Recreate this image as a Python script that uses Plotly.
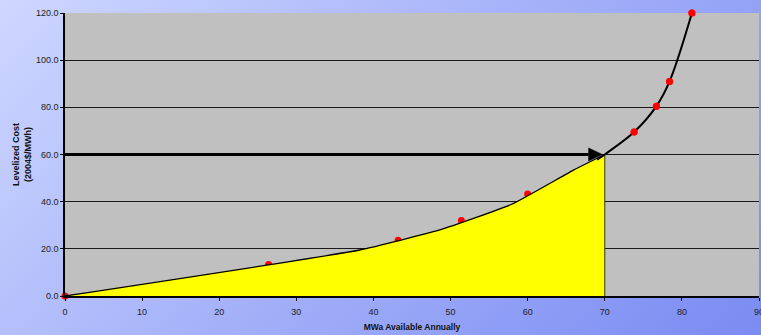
import base64
import plotly.graph_objects as go

# Supply curve: observed resource blocks (MWa, levelized cost)
point_mwa = [0, 26.4, 43.2, 51.4, 60.0, 73.8, 76.7, 78.4, 81.3]
point_cost = [0.0, 13.4, 23.6, 32.0, 43.3, 69.5, 80.5, 91.0, 120.0]

# Fitted curve up to the target quantity (shaded region)
fit_mwa = [0, 38.2, 48.6, 58.0, 66.0, 70.0]
fit_cost = [0.0, 19.5, 28.0, 39.0, 53.5, 60.0]

# Steep upper portion of the curve beyond the target
upper_mwa = [69.0, 70.0, 73.8, 76.7, 78.4, 81.3]
upper_cost = [57.8, 60.0, 69.5, 80.5, 91.0, 120.0]

target_mwa = 70
target_cost = 60

x_ticks = [0, 10, 20, 30, 40, 50, 60, 70, 80, 90]
y_ticks = [0, 20, 40, 60, 80, 100, 120]

W, H = 761, 335
ML, MR, MT, MB = 65, 2, 13, 39
PW, PH = W - ML - MR, H - MT - MB

FONT = "Arial, Liberation Sans, sans-serif"

# Arrowhead size, in axis units
HEAD_LEN = 1.8
HEAD_HALF = 2.8
tip_x = target_mwa - 0.3

# Diagonal blue gradient for the page background
svg = (
    f'<svg xmlns="http://www.w3.org/2000/svg" width="{W}" height="{H}" viewBox="0 0 {W} {H}" preserveAspectRatio="none">'
    '<defs><linearGradient id="g" gradientUnits="userSpaceOnUse" x1="0" y1="0" x2="548" y2="548">'
    '<stop offset="0" stop-color="#CED7FF"/><stop offset="1" stop-color="#7A8BF2"/>'
    '</linearGradient></defs>'
    f'<rect x="0" y="0" width="{W}" height="{H}" fill="url(#g)"/></svg>'
)
bg_src = "data:image/svg+xml;base64," + base64.b64encode(svg.encode()).decode()

fig = go.Figure()

# Red data points (drawn first so the shaded area overlaps them)
fig.add_trace(go.Scatter(
    x=point_mwa, y=point_cost, mode="markers",
    marker=dict(color="#FF0000", size=7, line=dict(width=0)),
    cliponaxis=False, hoverinfo="skip",
))

# Shaded area under the curve up to the target quantity
fig.add_trace(go.Scatter(
    x=fit_mwa, y=fit_cost,
    mode="lines", fill="tozeroy", fillcolor="#FFFF00",
    line=dict(color="#000000", width=1.3, shape="spline", smoothing=0.4),
    hoverinfo="skip",
))
# Right edge of the shaded area
fig.add_trace(go.Scatter(
    x=[target_mwa, target_mwa], y=[0, target_cost], mode="lines",
    line=dict(color="#333300", width=1), hoverinfo="skip",
))

# Upper curve
fig.add_trace(go.Scatter(
    x=upper_mwa, y=upper_cost, mode="lines",
    line=dict(color="#000000", width=2, shape="spline", smoothing=1),
    cliponaxis=False, hoverinfo="skip",
))

# Red points on the upper curve sit above the line
fig.add_trace(go.Scatter(
    x=point_mwa[5:], y=point_cost[5:], mode="markers",
    marker=dict(color="#FF0000", size=7, line=dict(width=0)),
    cliponaxis=False, hoverinfo="skip",
))

# Arrow from the cost axis to the target point: shaft ...
fig.add_trace(go.Scatter(
    x=[0, tip_x - HEAD_LEN], y=[target_cost, target_cost], mode="lines",
    line=dict(color="#000000", width=3), cliponaxis=False, hoverinfo="skip",
))
# ... and head
fig.add_trace(go.Scatter(
    x=[tip_x - HEAD_LEN, tip_x, tip_x - HEAD_LEN, tip_x - HEAD_LEN],
    y=[target_cost + HEAD_HALF, target_cost, target_cost - HEAD_HALF, target_cost + HEAD_HALF],
    mode="lines", fill="toself", fillcolor="#000000",
    line=dict(color="#000000", width=0.5), hoverinfo="skip",
))

fig.update_layout(
    width=W, height=H,
    margin=dict(l=ML, r=MR, t=MT, b=MB, pad=0),
    paper_bgcolor="#A6B4F8",
    plot_bgcolor="rgba(0,0,0,0)",
    showlegend=False,
    font=dict(family=FONT, size=9, color="#222222"),
    images=[dict(
        source=bg_src, xref="paper", yref="paper",
        x=-ML / PW, y=1 + MT / PH, sizex=W / PW, sizey=H / PH,
        xanchor="left", yanchor="top", sizing="stretch", layer="below",
    )],
    shapes=[dict(
        type="rect", xref="paper", yref="paper", x0=0, x1=1, y0=0, y1=1,
        fillcolor="#C0C0C0", line=dict(width=0), layer="below",
    )],
    xaxis=dict(
        range=[0, 90], tickvals=x_ticks, ticktext=[str(v) for v in x_ticks],
        showgrid=False, zeroline=False, automargin=False,
        showline=True, linecolor="#000000", linewidth=2,
        ticks="outside", ticklen=3, tickcolor="#000000", tickwidth=1,
        ticklabeloverflow="allow", ticklabelstandoff=3,
        title=dict(text="<b>MWa Available Annually</b>", standoff=8,
                   font=dict(family=FONT, size=8.5, color="#111111")),
    ),
    yaxis=dict(
        range=[0, 120], tickvals=y_ticks, ticktext=[f"{v:.1f}" for v in y_ticks],
        showgrid=True, gridcolor="#1A1A1A", gridwidth=1, zeroline=False,
        automargin=False,
        showline=True, linecolor="#000000", linewidth=1.5,
        ticks="outside", ticklen=3, tickcolor="#000000", tickwidth=1,
        title=dict(text="<b>Levelized Cost<br>(2004$/MWh)</b>", standoff=3,
                   font=dict(family=FONT, size=9, color="#111111")),
    ),
)

fig.write_html("out.html")
